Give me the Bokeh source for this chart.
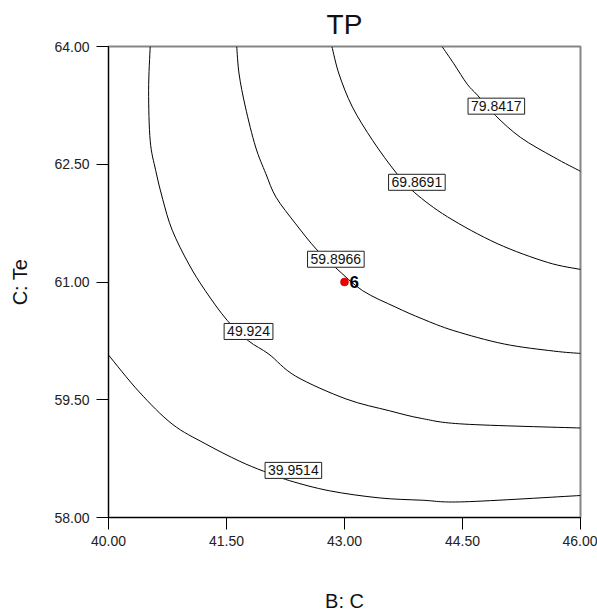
from bokeh.plotting import figure
from bokeh.models import Label, FixedTicker, PrintfTickFormatter, Range1d
from bokeh.embed import file_html
from bokeh.resources import INLINE

FONT = "Liberation Sans"

title_text = "TP"
x_label = "B: C"
y_label = "C: Te"
x_ticks = [40.0, 41.5, 43.0, 44.5, 46.0]
y_ticks = [58.0, 59.5, 61.0, 62.5, 64.0]

# contour levels and traced contour lines (B, Te)
levels = ["39.9514", "49.924", "59.8966", "69.8691", "79.8417"]

c40_x = [40.00, 40.39, 40.81, 41.23, 41.66, 41.97, 42.30, 42.81, 43.44, 43.99, 44.52, 46.00]
c40_y = [60.07, 59.60, 59.19, 58.94, 58.72, 58.59, 58.47, 58.34, 58.25, 58.22, 58.20, 58.28]

c50_x = [40.53, 40.51, 40.53, 40.60, 40.69, 40.81, 41.02, 41.23, 41.51, 41.78, 42.04, 42.38, 43.02, 43.57, 43.99, 44.52, 46.00]
c50_y = [64.00, 63.44, 62.80, 62.42, 62.05, 61.66, 61.23, 60.89, 60.51, 60.25, 60.08, 59.80, 59.51, 59.36, 59.26, 59.19, 59.14]

c60_x = [41.63, 41.66, 41.74, 41.87, 42.00, 42.13, 42.38, 42.64, 42.89, 43.23, 43.65, 43.99, 44.39, 45.03, 45.66, 46.00]
c60_y = [64.00, 63.65, 63.23, 62.72, 62.38, 62.08, 61.74, 61.42, 61.18, 60.89, 60.68, 60.53, 60.38, 60.21, 60.12, 60.09]

c70_x = [42.84, 42.93, 43.10, 43.36, 43.65, 43.89, 44.31, 44.94, 45.58, 46.00]
c70_y = [64.00, 63.65, 63.23, 62.80, 62.40, 62.14, 61.83, 61.49, 61.25, 61.16]

c80_x = [44.24, 44.39, 44.56, 44.69, 44.92, 45.24, 45.66, 46.00]
c80_y = [64.00, 63.78, 63.52, 63.38, 63.12, 62.84, 62.59, 62.41]

contours_x = [c40_x, c50_x, c60_x, c70_x, c80_x]
contours_y = [c40_y, c50_y, c60_y, c70_y, c80_y]

# where each level label sits
label_x = [42.35, 41.78, 42.89, 43.92, 44.93]
label_y = [58.60, 60.37, 61.29, 62.27, 63.24]

# design point
point_x = [43.0]
point_y = [61.0]
point_text = ["6"]

p = figure(width=597, height=615, output_backend="svg", toolbar_location=None,
           x_range=Range1d(40, 46), y_range=Range1d(58, 64),
           min_border_left=108, min_border_right=17, min_border_top=46, min_border_bottom=98)

p.title.text = title_text
p.title.align = "center"
p.title.text_font = FONT
p.title.text_font_size = "28px"
p.title.text_font_style = "normal"
p.title.text_color = "#111111"
p.title.standoff = 13

p.xgrid.visible = False
p.ygrid.visible = False
p.background_fill_color = "white"
p.border_fill_color = "white"
p.outline_line_color = "#858585"
p.outline_line_width = 2

for ax, ticks, lab in ((p.xaxis[0], x_ticks, x_label), (p.yaxis[0], y_ticks, y_label)):
    ax.ticker = FixedTicker(ticks=ticks)
    ax.formatter = PrintfTickFormatter(format="%.2f")
    ax.axis_label = lab
    ax.axis_label_text_font = FONT
    ax.axis_label_text_font_size = "20px"
    ax.axis_label_text_font_style = "normal"
    ax.axis_label_text_color = "#111111"
    ax.major_label_text_font = FONT
    ax.major_label_text_font_size = "14px"
    ax.major_label_text_color = "#222222"
    ax.axis_line_color = "black"
    ax.axis_line_width = 1
    ax.major_tick_line_color = "black"
    ax.major_tick_out = 12
    ax.major_tick_in = 0
    ax.minor_tick_line_color = None

p.xaxis[0].major_label_standoff = 6
p.xaxis[0].axis_label_standoff = 41
p.yaxis[0].major_label_standoff = 7
p.yaxis[0].axis_label_standoff = 20


def smooth_segments(xs, ys):
    """Catmull-Rom style control points so the traced lines are drawn as smooth curves."""
    n = len(xs)
    x0, y0, x1, y1, cx0, cy0, cx1, cy1 = [], [], [], [], [], [], [], []
    for i in range(n - 1):
        ip = max(i - 1, 0)
        inn = min(i + 2, n - 1)
        x0.append(xs[i]); y0.append(ys[i])
        x1.append(xs[i + 1]); y1.append(ys[i + 1])
        cx0.append(xs[i] + (xs[i + 1] - xs[ip]) / 6.0)
        cy0.append(ys[i] + (ys[i + 1] - ys[ip]) / 6.0)
        cx1.append(xs[i + 1] - (xs[inn] - xs[i]) / 6.0)
        cy1.append(ys[i + 1] - (ys[inn] - ys[i]) / 6.0)
    return dict(x0=x0, y0=y0, x1=x1, y1=y1, cx0=cx0, cy0=cy0, cx1=cx1, cy1=cy1)


for cx, cy in zip(contours_x, contours_y):
    seg = smooth_segments(cx, cy)
    p.bezier(x0=seg["x0"], y0=seg["y0"], x1=seg["x1"], y1=seg["y1"],
             cx0=seg["cx0"], cy0=seg["cy0"], cx1=seg["cx1"], cy1=seg["cy1"],
             line_color="black", line_width=1)

for lx, ly, txt in zip(label_x, label_y, levels):
    p.add_layout(Label(x=lx, y=ly, text=txt, text_align="center", text_baseline="middle",
                       text_font=FONT, text_font_size="14px", text_color="#111111",
                       background_fill_color="white", border_line_color="#222222",
                       border_line_width=1, padding=3))

p.scatter(point_x, point_y, size=8, fill_color="#ee0000", line_color="#990000", line_width=0.5)
for px_, py_, t in zip(point_x, point_y, point_text):
    p.add_layout(Label(x=px_, y=py_, text=t, x_offset=5, text_align="left", text_baseline="middle",
                       text_font=FONT, text_font_size="17px", text_font_style="bold",
                       text_color="black"))

open("out.html", "w").write(file_html(p, INLINE))
